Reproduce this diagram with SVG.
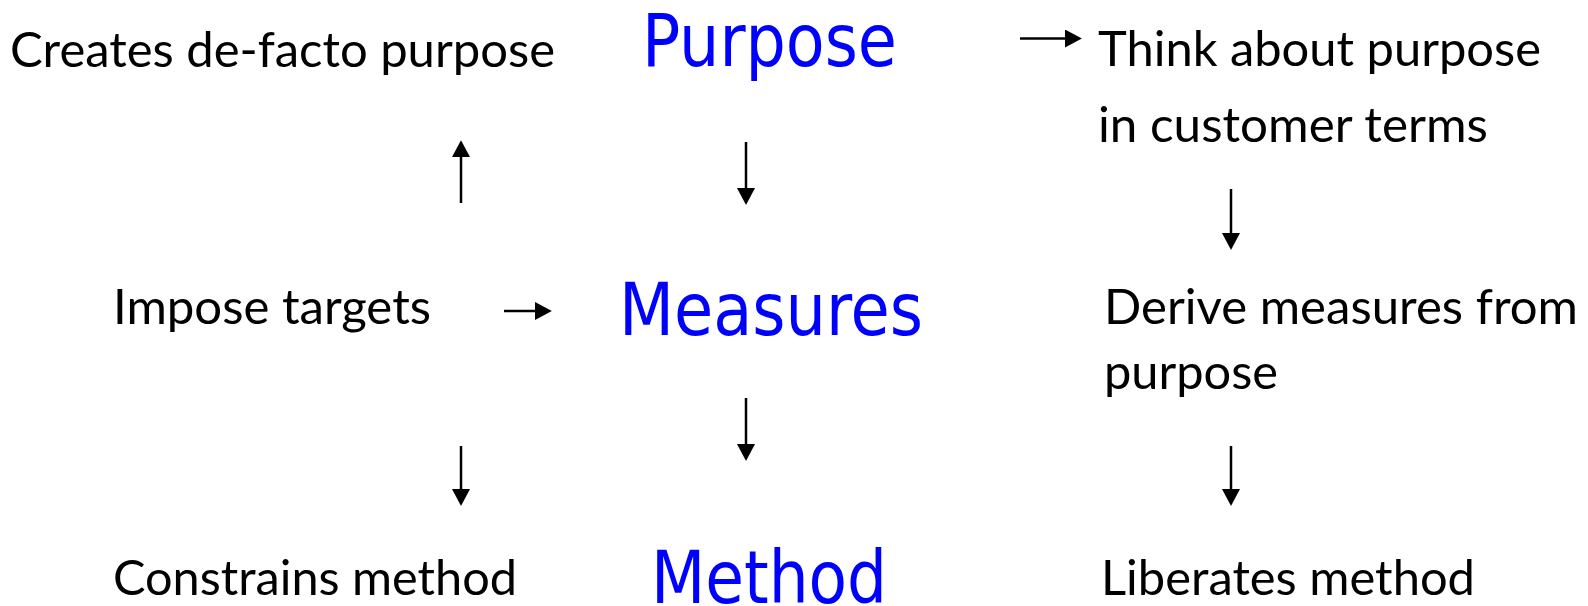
<svg xmlns="http://www.w3.org/2000/svg" width="1588" height="606" viewBox="0 0 1588 606">
  <defs>
    <style>
      .lbl { font-family: Lato, "Open Sans", "Liberation Sans", sans-serif; font-size: 48px; fill: #000; }
      .key { font-family: "DejaVu Sans Condensed", "DejaVu Sans", Verdana, sans-serif; font-size: 73px; fill: #0000ff; }
      .arr { stroke: #000; stroke-width: 2.5; fill: none; marker-end: url(#head); }
    </style>
    <marker id="head" markerUnits="userSpaceOnUse" markerWidth="18" markerHeight="18" refX="0" refY="8" orient="auto" viewBox="0 0 16 16">
      <path d="M0,0 L15,8 L0,16 z" fill="#000"/>
    </marker>
  </defs>
  <rect width="1588" height="606" fill="#fff"/>

  <!-- central column -->
  <g id="purpose"><text class="key" x="642" y="66" textLength="255" lengthAdjust="spacingAndGlyphs">Purpose</text></g>
  <g id="measures"><text class="key" x="619" y="335" textLength="304" lengthAdjust="spacingAndGlyphs">Measures</text></g>
  <g id="method"><text class="key" x="651" y="603" textLength="236" lengthAdjust="spacingAndGlyphs">Method</text></g>

  <!-- left column -->
  <g id="creates"><text class="lbl" x="10" y="67" textLength="545" lengthAdjust="spacingAndGlyphs">Creates de-facto purpose</text></g>
  <g id="impose"><text class="lbl" x="113" y="324" textLength="318" lengthAdjust="spacingAndGlyphs">Impose targets</text></g>
  <g id="constrains"><text class="lbl" x="113" y="595" textLength="404" lengthAdjust="spacingAndGlyphs">Constrains method</text></g>

  <!-- right column -->
  <g id="think">
    <text class="lbl" x="1098" y="66" textLength="443" lengthAdjust="spacingAndGlyphs">Think about purpose</text>
    <text class="lbl" x="1098" y="142" textLength="390" lengthAdjust="spacingAndGlyphs">in customer terms</text>
  </g>
  <g id="derive">
    <text class="lbl" x="1104" y="324" textLength="474" lengthAdjust="spacingAndGlyphs">Derive measures from</text>
    <text class="lbl" x="1104" y="389" textLength="174" lengthAdjust="spacingAndGlyphs">purpose</text>
  </g>
  <g id="liberates"><text class="lbl" x="1101" y="595" textLength="374" lengthAdjust="spacingAndGlyphs">Liberates method</text></g>

  <!-- connectors -->
  <g id="connectors">
    <line class="arr" x1="1020" y1="38.5" x2="1065" y2="38.5"/>
    <line class="arr" x1="461" y1="203" x2="461" y2="157"/>
    <line class="arr" x1="746" y1="142" x2="746" y2="188"/>
    <line class="arr" x1="1231" y1="189" x2="1231" y2="233"/>
    <line class="arr" x1="504" y1="311" x2="535" y2="311"/>
    <line class="arr" x1="746" y1="398" x2="746" y2="444"/>
    <line class="arr" x1="461" y1="446" x2="461" y2="489"/>
    <line class="arr" x1="1231" y1="446" x2="1231" y2="489"/>
  </g>
</svg>
